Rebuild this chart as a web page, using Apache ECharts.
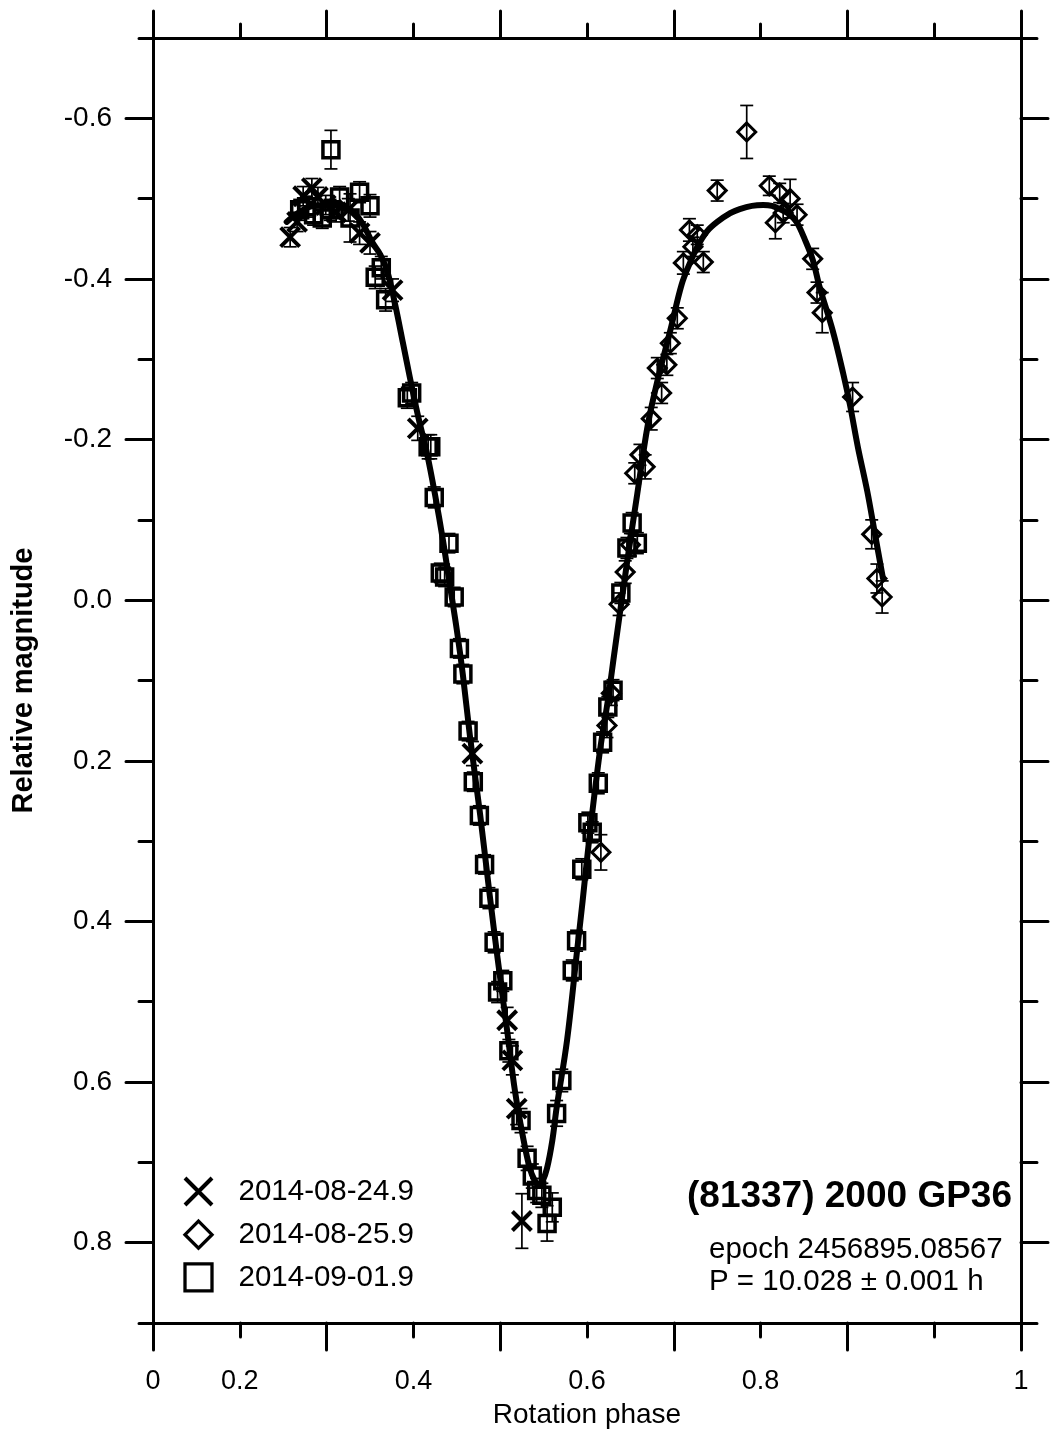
<!DOCTYPE html>
<html>
<head>
<meta charset="utf-8">
<script src="https://cdn.jsdelivr.net/npm/echarts@6/dist/echarts.min.js"></script>
<style>
  html, body { margin: 0; padding: 0; background: #ffffff; }
  #chart { width: 1050px; height: 1434px; }
</style>
</head>
<body>
<div id="chart"></div>
<script>
// Lightcurve of (81337) 2000 GP36: [rotation phase, relative magnitude, 1-sigma error]
const session20140824 = [
  [0.158, -0.452, 0.012], [0.166, -0.471, 0.012], [0.173, -0.503, 0.012],
  [0.183, -0.513, 0.012], [0.190, -0.502, 0.012], [0.199, -0.492, 0.012],
  [0.211, -0.483, 0.012], [0.225, -0.486, 0.014], [0.238, -0.457, 0.014],
  [0.250, -0.445, 0.014], [0.276, -0.386, 0.014], [0.305, -0.214, 0.015],
  [0.368, 0.191, 0.015], [0.408, 0.523, 0.016], [0.414, 0.573, 0.018],
  [0.419, 0.633, 0.020], [0.425, 0.773, 0.034]
];

const session20140825 = [
  [0.516, 0.314, 0.022], [0.523, 0.156, 0.015], [0.528, 0.116, 0.015],
  [0.537, 0.005, 0.014], [0.544, -0.035, 0.014], [0.550, -0.069, 0.014],
  [0.555, -0.158, 0.013], [0.561, -0.181, 0.013], [0.567, -0.166, 0.015],
  [0.574, -0.226, 0.014], [0.581, -0.289, 0.013], [0.586, -0.258, 0.013],
  [0.592, -0.293, 0.013], [0.596, -0.320, 0.013], [0.604, -0.351, 0.013],
  [0.611, -0.420, 0.014], [0.618, -0.461, 0.014], [0.622, -0.440, 0.012],
  [0.627, -0.455, 0.012], [0.634, -0.421, 0.013], [0.650, -0.510, 0.013],
  [0.684, -0.583, 0.033], [0.710, -0.516, 0.012], [0.717, -0.470, 0.020],
  [0.722, -0.507, 0.012], [0.726, -0.482, 0.012], [0.734, -0.500, 0.024],
  [0.742, -0.480, 0.013], [0.760, -0.425, 0.013], [0.765, -0.383, 0.013],
  [0.771, -0.358, 0.025], [0.806, -0.253, 0.018], [0.828, -0.082, 0.018],
  [0.834, -0.027, 0.018], [0.840, -0.004, 0.020]
];

const session20140901 = [
  [0.205, -0.561, 0.024], [0.169, -0.486, 0.013], [0.177, -0.490, 0.013],
  [0.185, -0.480, 0.013], [0.195, -0.476, 0.013], [0.204, -0.486, 0.013],
  [0.215, -0.502, 0.013], [0.227, -0.476, 0.030], [0.238, -0.508, 0.013],
  [0.250, -0.491, 0.014], [0.256, -0.402, 0.014], [0.263, -0.414, 0.014],
  [0.268, -0.374, 0.014], [0.293, -0.252, 0.013], [0.298, -0.258, 0.013],
  [0.317, -0.191, 0.015], [0.320, -0.191, 0.015], [0.324, -0.128, 0.013],
  [0.341, -0.071, 0.012], [0.331, -0.034, 0.012], [0.336, -0.029, 0.012],
  [0.347, -0.004, 0.012], [0.353, 0.060, 0.012], [0.357, 0.092, 0.012],
  [0.363, 0.163, 0.012], [0.369, 0.226, 0.012], [0.376, 0.268, 0.012],
  [0.382, 0.329, 0.012], [0.387, 0.371, 0.013], [0.393, 0.426, 0.013],
  [0.397, 0.488, 0.013], [0.403, 0.474, 0.013], [0.410, 0.561, 0.014],
  [0.424, 0.648, 0.015], [0.431, 0.695, 0.015], [0.437, 0.717, 0.015],
  [0.442, 0.735, 0.015], [0.448, 0.741, 0.015], [0.454, 0.776, 0.022],
  [0.460, 0.756, 0.018], [0.465, 0.639, 0.016], [0.471, 0.598, 0.014],
  [0.483, 0.461, 0.013], [0.488, 0.424, 0.013], [0.494, 0.335, 0.013],
  [0.501, 0.277, 0.013], [0.506, 0.289, 0.013], [0.513, 0.228, 0.013],
  [0.518, 0.177, 0.013], [0.524, 0.133, 0.013], [0.530, 0.112, 0.013],
  [0.539, -0.009, 0.013], [0.546, -0.065, 0.013], [0.552, -0.096, 0.013],
  [0.558, -0.071, 0.013]
];

// Fourier fit: [rotation phase, relative magnitude]
const fitPhase = [
  0.154, 0.167, 0.181, 0.195, 0.210, 0.224, 0.234, 0.243, 0.253, 0.262,
  0.270, 0.279, 0.288, 0.296, 0.305, 0.316, 0.325, 0.334, 0.342, 0.350,
  0.357, 0.365, 0.377, 0.388, 0.397, 0.408, 0.417, 0.426, 0.434, 0.440,
  0.445, 0.449, 0.454, 0.460, 0.465, 0.477, 0.488, 0.495, 0.503, 0.515,
  0.524, 0.532, 0.546, 0.558, 0.570, 0.582, 0.596, 0.609, 0.619, 0.627,
  0.638, 0.650, 0.665, 0.676, 0.690, 0.703, 0.713, 0.722, 0.734, 0.742,
  0.751, 0.760, 0.768, 0.783, 0.795, 0.803, 0.812, 0.823, 0.832, 0.841
];
const fitMagnitude = [
  -0.471, -0.482, -0.490, -0.492, -0.492, -0.488, -0.480, -0.466, -0.445, -0.430,
  -0.409, -0.368, -0.320, -0.277, -0.231, -0.181, -0.131, -0.075, -0.019, 0.037,
  0.093, 0.168, 0.268, 0.368, 0.446, 0.536, 0.611, 0.667, 0.707, 0.723,
  0.729, 0.723, 0.707, 0.673, 0.632, 0.548, 0.442, 0.374, 0.293, 0.187,
  0.125, 0.062, -0.046, -0.133, -0.218, -0.277, -0.336, -0.393, -0.421, -0.440,
  -0.459, -0.471, -0.482, -0.487, -0.491, -0.492, -0.491, -0.487, -0.480, -0.470,
  -0.449, -0.424, -0.390, -0.336, -0.283, -0.243, -0.191, -0.135, -0.081, -0.027
];

// Axis ticks and labels
const xMinorTicks = [0, 0.1, 0.2, 0.3, 0.4, 0.5, 0.6, 0.7, 0.8, 0.9, 1];
const xMajorTicks = [0, 0.2, 0.4, 0.6, 0.8, 1];
const xLabelValues = [0, 0.1, 0.3, 0.5, 0.7, 1];
const xLabelTexts = ['0', '0.2', '0.4', '0.6', '0.8', '1'];
const yMinorTicks = [-0.7, -0.6, -0.5, -0.4, -0.3, -0.2, -0.1, 0, 0.1, 0.2, 0.3, 0.4, 0.5, 0.6, 0.7, 0.8, 0.9];
const yMajorTicks = [-0.6, -0.4, -0.2, 0, 0.2, 0.4, 0.6, 0.8];

const sessionNames = ['2014-08-24.9', '2014-08-25.9', '2014-09-01.9'];

const FONT = '"Liberation Sans", Arial, Helvetica, sans-serif';
const INK = '#000000';
const CROSS = 'path://M0,0L20,20M20,0L0,20';
const DIAMOND = 'path://M10,0L20,10L10,20L0,10Z';
const SQUARE = 'path://M0,0L20,0L20,20L0,20Z';

const chart = echarts.init(document.getElementById('chart'), null, { renderer: 'canvas' });

const frameLine = { show: true, onZero: false, lineStyle: { color: INK, width: 3, cap: 'round' } };

function tickAxis(kind, position, ticks, len, extra) {
  const base = {
    type: 'value',
    position: position,
    min: kind === 'x' ? 0 : -0.7,
    max: kind === 'x' ? 1 : 0.9,
    axisLine: frameLine,
    axisTick: { show: true, inside: false, length: len, customValues: ticks,
                lineStyle: { color: INK, width: 3, cap: 'round' } },
    axisLabel: { show: false },
    splitLine: { show: false },
    minorTick: { show: false },
    z: 5
  };
  if (kind === 'y') base.inverse = true;
  return Object.assign(base, extra || {});
}

function labelFromTable(values, texts) {
  return function (v) {
    let best = 0;
    for (let i = 1; i < values.length; i++) {
      if (Math.abs(values[i] - v) < Math.abs(values[best] - v)) best = i;
    }
    return texts[best];
  };
}

function errorBars(data) {
  return {
    type: 'custom',
    xAxisIndex: 0,
    yAxisIndex: 0,
    silent: true,
    z: 2,
    data: data,
    encode: { x: 0, y: 1 },
    renderItem: function (params, api) {
      const x = api.value(0), y = api.value(1), e = api.value(2);
      const hi = api.coord([x, y - e]);
      const lo = api.coord([x, y + e]);
      const half = 6.5;
      const style = { stroke: INK, lineWidth: 1.7, fill: null };
      return {
        type: 'group',
        children: [
          { type: 'line', shape: { x1: hi[0], y1: hi[1], x2: lo[0], y2: lo[1] }, style: style },
          { type: 'line', shape: { x1: hi[0] - half, y1: hi[1], x2: hi[0] + half, y2: hi[1] }, style: style },
          { type: 'line', shape: { x1: lo[0] - half, y1: lo[1], x2: lo[0] + half, y2: lo[1] }, style: style }
        ]
      };
    }
  };
}

function markers(name, data, symbol, size, width) {
  return {
    name: name,
    type: 'scatter',
    xAxisIndex: 0,
    yAxisIndex: 0,
    data: data.map(function (d) { return [d[0], d[1]]; }),
    symbol: symbol,
    symbolSize: size,
    itemStyle: { color: 'transparent', borderColor: INK, borderWidth: width, opacity: 1 },
    emphasis: { disabled: true },
    z: 3
  };
}

const option = {
  backgroundColor: '#ffffff',
  animation: false,
  textStyle: { fontFamily: FONT, color: INK },
  grid: { left: 153, right: 29, top: 38, bottom: 111, containLabel: false, outerBoundsMode: 'none' },
  xAxis: [
    tickAxis('x', 'bottom', xMinorTicks, 14, {
      name: 'Rotation phase',
      nameLocation: 'middle',
      nameGap: 78,
      nameTextStyle: { fontFamily: FONT, fontSize: 28, color: INK }
    }),
    tickAxis('x', 'bottom', xMajorTicks, 27, {
      axisLabel: {
        show: true, customValues: xLabelValues, margin: 45,
        fontFamily: FONT, fontSize: 27, color: INK,
        formatter: labelFromTable(xLabelValues, xLabelTexts)
      }
    }),
    tickAxis('x', 'top', xMinorTicks, 14),
    tickAxis('x', 'top', xMajorTicks, 27)
  ],
  yAxis: [
    tickAxis('y', 'left', yMinorTicks, 14, {
      name: 'Relative magnitude',
      nameLocation: 'middle',
      nameGap: 115,
      nameRotate: 90,
      nameTextStyle: { fontFamily: FONT, fontSize: 29, fontWeight: 'bold', color: INK }
    }),
    tickAxis('y', 'left', yMajorTicks, 27, {
      axisLabel: {
        show: true, customValues: yMajorTicks, margin: 41,
        fontFamily: FONT, fontSize: 28, color: INK,
        formatter: function (v) { return v.toFixed(1); }
      }
    }),
    tickAxis('y', 'right', yMinorTicks, 16),
    tickAxis('y', 'right', yMajorTicks, 27)
  ],
  legend: {
    orient: 'vertical',
    left: 178,
    top: 1171,
    itemWidth: 70,
    itemHeight: 27,
    itemGap: 12.5,
    selectedMode: false,
    textStyle: { fontFamily: FONT, fontSize: 29.5, color: INK, lineHeight: 29 },
    data: [
      { name: sessionNames[0], icon: CROSS, itemStyle: { color: 'transparent', borderColor: INK, borderWidth: 4 } },
      { name: sessionNames[1], icon: DIAMOND, itemStyle: { color: 'transparent', borderColor: INK, borderWidth: 3.3 } },
      { name: sessionNames[2], icon: SQUARE, itemStyle: { color: 'transparent', borderColor: INK, borderWidth: 3.3 } }
    ]
  },
  graphic: [
    {
      type: 'text', x: 1012, y: 1197, z: 10,
      style: { text: '(81337) 2000 GP36', fill: INK, font: 'bold 37px ' + FONT, textAlign: 'right', textVerticalAlign: 'middle' }
    },
    {
      type: 'text', x: 709, y: 1250, z: 10,
      style: { text: 'epoch 2456895.08567', fill: INK, font: '29.5px ' + FONT, textAlign: 'left', textVerticalAlign: 'middle' }
    },
    {
      type: 'text', x: 709, y: 1282, z: 10,
      style: { text: 'P = 10.028 \u00b1 0.001 h', fill: INK, font: '29.5px ' + FONT, textAlign: 'left', textVerticalAlign: 'middle' }
    }
  ],
  series: [
    errorBars(session20140824),
    errorBars(session20140825),
    errorBars(session20140901),
    markers(sessionNames[0], session20140824, CROSS, 19, 4),
    markers(sessionNames[1], session20140825, DIAMOND, 18, 3),
    markers(sessionNames[2], session20140901, SQUARE, 16, 3.5),
    {
      name: 'fit',
      type: 'line',
      xAxisIndex: 0,
      yAxisIndex: 0,
      data: fitPhase.map(function (p, i) { return [p, fitMagnitude[i]]; }),
      showSymbol: false,
      smooth: 0.35,
      lineStyle: { color: INK, width: 6, cap: 'round', join: 'round' },
      silent: true,
      z: 4
    }
  ]
};

chart.setOption(option);
</script>
</body>
</html>
